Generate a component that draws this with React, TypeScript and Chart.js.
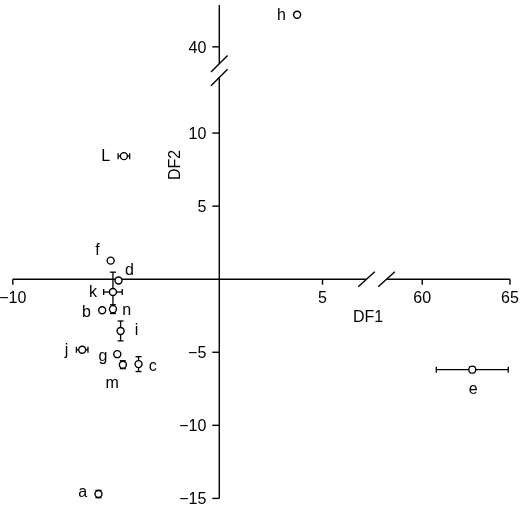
import React, { useEffect, useRef } from "react";
import Chart from "chart.js/auto";

// groups and their discriminant scores
const groups = ["a", "b", "c", "d", "e", "f", "g", "h", "i", "j", "k", "L", "m", "n"];
const df1 = [-5.85, -5.67, -3.91, -4.88, 62.85, -5.26, -4.94, 3.77, -4.78, -6.64, -5.15, -4.62, -4.67, -5.15];
const df2 = [-14.7, -2.12, -5.81, -0.09, -6.19, 1.27, -5.13, 42.2, -3.54, -4.83, -0.88, 8.42, -5.85, -2.05];
const df1Err = [0, 0, 0, 0, 2.05, 0, 0, 0, 0, 0.28, 0.45, 0.28, 0, 0];
const df2Err = [0.25, 0, 0.51, 0, 0.2, 0, 0, 0, 0.68, 0, 1.36, 0, 0.27, 0.3];

const df1Ticks = [-10, 5, 60, 65];
const df2Ticks = [-15, -10, -5, 5, 10, 40];

// broken axes: pull the far ranges in next to the main range
const mapX = (v: number) => (v < 30 ? v : 9.83 + (v - 60) * 0.85);
const mapY = (v: number) => (v < 25 ? v : 15.9 + (v - 40));

const FONT = '16px "Liberation Sans", Arial, sans-serif';
const minus = (v: number) => (v < 0 ? "\u2212" + Math.abs(v) : String(v));

// where each letter sits relative to its point (dx, baseline dy)
const labelPos: Record<string, [number, number]> = {
  a: [-15.7, 3.3],
  b: [-15.7, 6.7],
  c: [14.3, 7.3],
  d: [11, -5.6],
  e: [1, 24.4],
  f: [-13.3, -5.6],
  g: [-14.4, 7.3],
  h: [-15.6, 5],
  i: [16, 4],
  j: [-15.7, 5],
  k: [-20, 5],
  L: [-18.3, 5],
  m: [-10.6, 23.4],
  n: [13.7, 5.4],
};

const line = (ctx: CanvasRenderingContext2D, x1: number, y1: number, x2: number, y2: number) => {
  ctx.beginPath();
  ctx.moveTo(x1, y1);
  ctx.lineTo(x2, y2);
  ctx.stroke();
};

const axesPlugin = {
  id: "brokenAxes",
  beforeDatasetsDraw(chart: any) {
    const { ctx, chartArea } = chart;
    const xs = chart.scales.x;
    const ys = chart.scales.y;
    const px = (v: number) => xs.getPixelForValue(mapX(v));
    const py = (v: number) => ys.getPixelForValue(mapY(v));
    const x0 = px(0);
    const y0 = py(0);

    ctx.save();
    ctx.strokeStyle = "#000";
    ctx.fillStyle = "#000";
    ctx.lineWidth = 1.4;
    ctx.font = FONT;

    // DF1 axis with break
    const bx1 = xs.getPixelForValue(7.13);
    const bx2 = xs.getPixelForValue(8.1);
    line(ctx, px(-10), y0, bx1, y0);
    line(ctx, bx2, y0, px(65), y0);
    [bx1, bx2].forEach((b) => line(ctx, b - 8.3, y0 + 7.5, b + 8.3, y0 - 7.5));

    ctx.textAlign = "center";
    ctx.textBaseline = "alphabetic";
    df1Ticks.forEach((t) => {
      const x = px(t);
      line(ctx, x, y0, x, y0 + 5.5);
      ctx.fillText(minus(t), x, y0 + 23.8);
    });

    // DF2 axis with break
    const by1 = ys.getPixelForValue(14.74);
    const by2 = ys.getPixelForValue(13.8);
    line(ctx, x0, py(-15), x0, by2);
    line(ctx, x0, by1, x0, chartArea.top);
    [by1, by2].forEach((b) => line(ctx, x0 - 8.3, b + 8.3, x0 + 8.3, b - 8.3));

    ctx.textAlign = "right";
    df2Ticks.forEach((t) => {
      const y = py(t);
      line(ctx, x0 - 7, y, x0, y);
      ctx.fillText(minus(t), x0 - 13, y + 5.8);
    });

    // axis titles
    ctx.textAlign = "center";
    ctx.fillText("DF1", 368, 321.7);
    ctx.save();
    ctx.translate(179.5, 165);
    ctx.rotate(-Math.PI / 2);
    ctx.fillText("DF2", 0, 0);
    ctx.restore();

    // error bars
    const cap = 3;
    ctx.lineWidth = 1.3;
    groups.forEach((_, i) => {
      const x = px(df1[i]);
      const y = py(df2[i]);
      if (df1Err[i] > 0) {
        const xa = px(df1[i] - df1Err[i]);
        const xb = px(df1[i] + df1Err[i]);
        line(ctx, xa, y, xb, y);
        line(ctx, xa, y - cap, xa, y + cap);
        line(ctx, xb, y - cap, xb, y + cap);
      }
      if (df2Err[i] > 0) {
        const ya = py(df2[i] - df2Err[i]);
        const yb = py(df2[i] + df2Err[i]);
        line(ctx, x, ya, x, yb);
        line(ctx, x - cap, ya, x + cap, ya);
        line(ctx, x - cap, yb, x + cap, yb);
      }
    });
    ctx.restore();
  },
  afterDatasetsDraw(chart: any) {
    const { ctx } = chart;
    const meta = chart.getDatasetMeta(0);
    ctx.save();
    ctx.fillStyle = "#000";
    ctx.font = FONT;
    ctx.textAlign = "center";
    ctx.textBaseline = "alphabetic";
    groups.forEach((g, i) => {
      const pt = meta.data[i];
      const [dx, dy] = labelPos[g];
      ctx.fillText(g, pt.x + dx, pt.y + dy);
    });
    ctx.restore();
  },
};

const App: React.FC = () => {
  const canvasRef = useRef<HTMLCanvasElement | null>(null);
  const chartRef = useRef<Chart | null>(null);

  useEffect(() => {
    const canvas = canvasRef.current;
    if (!canvas) return;
    if (chartRef.current) chartRef.current.destroy();

    chartRef.current = new Chart(canvas, {
      type: "scatter",
      data: {
        labels: groups,
        datasets: [
          {
            data: groups.map((_, i) => ({ x: mapX(df1[i]), y: mapY(df2[i]) })),
            pointRadius: 3.5,
            pointHoverRadius: 3.5,
            pointBorderWidth: 1.4,
            pointBorderColor: "#000",
            pointBackgroundColor: "#fff",
            clip: false,
          },
        ],
      },
      options: {
        animation: false,
        responsive: true,
        maintainAspectRatio: false,
        layout: { padding: { left: 12.8, right: 10, top: 0, bottom: 9.6 } },
        scales: {
          x: { type: "linear", min: -10, max: mapX(65), display: false },
          y: { type: "linear", min: -15, max: 18.77, display: false },
        },
        plugins: {
          legend: { display: false },
          tooltip: { enabled: false },
        },
      },
      plugins: [axesPlugin],
    });

    return () => {
      if (chartRef.current) {
        chartRef.current.destroy();
        chartRef.current = null;
      }
    };
  }, []);

  return (
    <div style={{ position: "fixed", left: 0, top: 0, width: 520, height: 508, background: "#fff" }}>
      <canvas ref={canvasRef} />
    </div>
  );
};

export default App;
